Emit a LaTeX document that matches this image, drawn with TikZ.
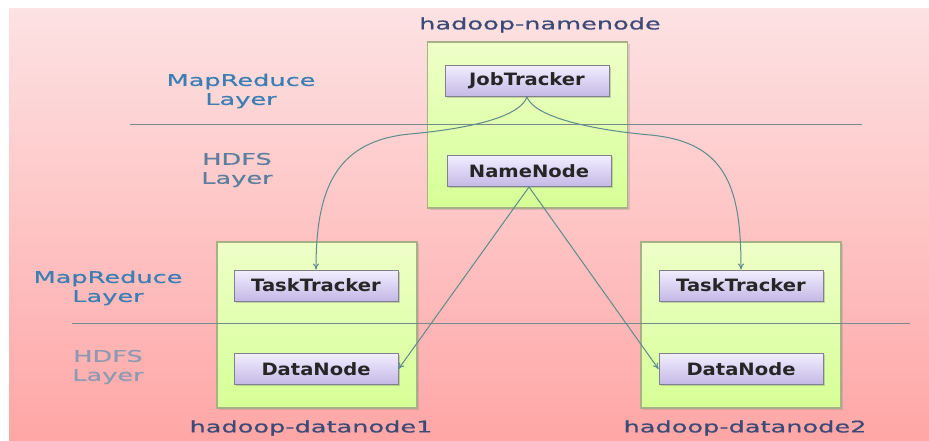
\documentclass[tikz,border=0pt]{standalone}
\usepackage{fontspec}
\usetikzlibrary{shadows,arrows.meta}
\newfontfamily\lblfont[FakeStretch=1.6,FakeBold=0.6]{DejaVu Sans}
\newfontfamily\boxfont[FakeStretch=1.15]{DejaVu Sans Bold}
\definecolor{bgtop}{HTML}{FDE2E3}
\definecolor{bgbot}{HTML}{FFA6A6}
\definecolor{grtop}{HTML}{EEFFC8}
\definecolor{grbot}{HTML}{D6FF96}
\definecolor{grline}{HTML}{A8B088}
\definecolor{lvtop}{HTML}{F2EEFF}
\definecolor{lvbot}{HTML}{C4B8E6}
\definecolor{lvline}{HTML}{80808F}
\definecolor{sepline}{HTML}{748C8C}
\definecolor{arrcol}{HTML}{5E8C8C}
\definecolor{mrblue}{HTML}{3D7FB5}
\definecolor{hdblue}{HTML}{5C7FA0}
\definecolor{hdgrey}{HTML}{8C9AB2}
\definecolor{hostcol}{HTML}{3C4A78}
\tikzset{
  hostbox/.style={draw=grline, line width=1.5pt, top color=grtop, bottom color=grbot,
    drop shadow={opacity=0.25, shadow xshift=2pt, shadow yshift=-2pt},
    minimum width=200pt, minimum height=166pt, inner sep=0pt},
  procbox/.style={draw=lvline, line width=1pt, top color=lvtop, bottom color=lvbot,
    drop shadow={opacity=0.35, shadow xshift=1.5pt, shadow yshift=-1.5pt},
    minimum width=164pt, minimum height=31pt, inner sep=0pt,
    font=\boxfont\fontsize{17}{20}\selectfont, text=black!85},
  layerlbl/.style={align=center, font=\lblfont\fontsize{16}{19}\selectfont},
  hostlbl/.style={font=\lblfont\fontsize{16}{19}\selectfont, text=hostcol},
  sep/.style={draw=sepline, line width=1pt},
  conn/.style={draw=arrcol, line width=1pt, -{To[length=6pt,width=6pt]}}
}
\begin{document}
\begin{tikzpicture}[x=1pt,y=-1pt]
\useasboundingbox (0,0) rectangle (929,441);
\fill[white] (0,0) rectangle (929,441);
\shade[top color=bgtop, bottom color=bgbot] (9,9) rectangle (929,441);

% host boxes
\node[hostbox] (nbox) at (527.5,125) {};
\node[hostbox] (d1box) at (317,325) {};
\node[hostbox] (d2box) at (741,325) {};

% separator lines
\coordinate (s1a) at (130,125);
\coordinate (s1b) at (862,125);
\coordinate (s2a) at (72,323);
\coordinate (s2b) at (910,323);
\draw[sep] (s1a) -- (s1b);
\draw[sep] (s2a) -- (s2b);

% process boxes
\node[procbox] (jt) at (527,81) {JobTracker};
\node[procbox] (nn) at (529,171) {NameNode};
\node[procbox] (tt1) at (316,285.5) {TaskTracker};
\node[procbox] (dn1) at (316,369) {DataNode};
\node[procbox] (tt2) at (741,285.5) {TaskTracker};
\node[procbox] (dn2) at (741,369) {DataNode};

% labels
\node[hostlbl] (hn) at (540,25) {hadoop-namenode};
\node[hostlbl] (hd1) at (311,428) {hadoop-datanode1};
\node[hostlbl] (hd2) at (745,428) {hadoop-datanode2};
\node[layerlbl, text=mrblue] (mr1) at (241,91) {MapReduce\\Layer};
\node[layerlbl, text=hdblue] (hf1) at (237,170) {HDFS\\Layer};
\node[layerlbl, text=mrblue] (mr2) at (108,288) {MapReduce\\Layer};
\node[layerlbl, text=hdgrey] (hf2) at (108,367) {HDFS\\Layer};

% connectors
\draw[conn] (jt.south) .. controls (520,116) and (475,128) .. (410,134)
  .. controls (335,141) and (316,190) .. (tt1.north);
\draw[conn] (jt.south) .. controls (534,116) and (585,129) .. (650,135)
  .. controls (728,142) and (741,190) .. (tt2.north);
\draw[conn] (nn.south) -- (dn1.east);
\draw[conn] (nn.south) -- (dn2.west);
\end{tikzpicture}
\end{document}
